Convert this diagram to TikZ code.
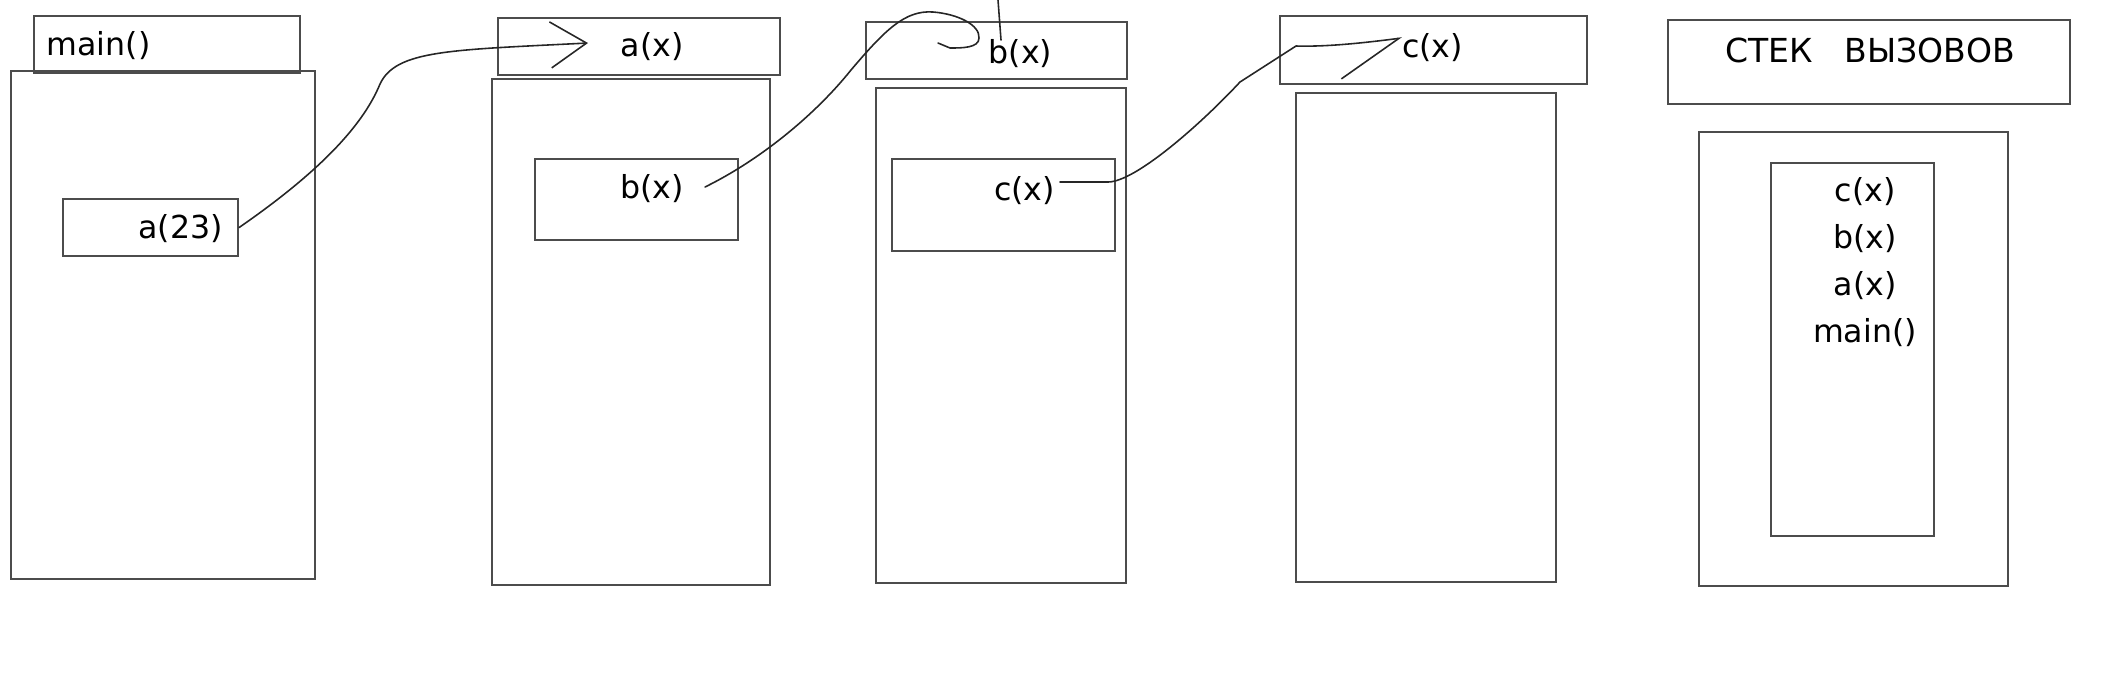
\documentclass[tikz,border=0pt]{standalone}
\usepackage{fontspec}
\setmainfont{DejaVu Sans}
\usetikzlibrary{arrows.meta}
\tikzset{
  blk/.style n args = {2}{rectangle, draw=black!70, line width=0.6pt, inner sep=0pt, minimum width=#1mm, minimum height=#2mm},
  t/.style          = {font=\fontsize{9}{13.3}\selectfont, inner sep=0pt},
  l/.style          = {draw=black!85, line width=0.45pt, line cap=round, line join=round},
  chiamata/.style   = {l, -{Straight Barb[length=3.6mm, width=4.6mm]}},
  ritorno/.style    = {l, -{Straight Barb[right, length=6.2mm, width=6.6mm]}}
}
\begin{document}
\begin{tikzpicture}[x=0.01cm, y=-0.01cm]
  \useasboundingbox (0,0) rectangle (2112,672);

  % main()
  \node[blk={26.6}{5.7}]  (mainhdr)  at (167,44.5)  {};
  \node[t]                (maint)    at (98.5,46)   {main()};
  \node[blk={30.4}{50.8}] (mainbody) at (163,325)   {};
  \node[blk={17.5}{5.7}]  (acall)    at (150.5,227.5) {};
  \node[t]                (acallt)   at (180.5,229) {a(23)};

  % a(x)
  \node[blk={28.2}{5.7}]  (ahdr)     at (639,46.5)  {};
  \node[t]                (ahdrt)    at (652,47)    {a(x)};
  \node[blk={27.8}{50.6}] (abody)    at (631,332)   {};
  \node[blk={20.3}{8.1}]  (bcall)    at (636.5,199.5) {};
  \node[t]                (bcallt)   at (652,189)   {b(x)};

  % b(x)
  \node[blk={26.1}{5.7}]  (bhdr)     at (996.5,50.5) {};
  \node[t]                (bhdrt)    at (1020.5,54) {b(x)};
  \node[blk={25.0}{49.5}] (bbody)    at (1001,335.5) {};
  \node[blk={22.3}{9.2}]  (ccall)    at (1003.5,205) {};
  \node[t]                (ccallt)   at (1024.5,191) {c(x)};

  % c(x)
  \node[blk={30.7}{6.8}]  (chdr)     at (1433.5,50) {};
  \node[t]                (chdrt)    at (1432.5,48) {c(x)};
  \node[blk={26.0}{48.9}] (cbody)    at (1426,337.5) {};

  % stek vyzovov
  \node[blk={40.2}{8.4}]  (stitolo)  at (1869,62)   {};
  \node[t, font=\fontsize{9.4}{12}\selectfont] (stitolot) at (1870,50) {СТЕК\ \ \ ВЫЗОВОВ};
  \node[blk={30.9}{45.4}] (sest)     at (1853.5,359) {};
  \node[blk={16.3}{37.3}] (sint)     at (1852.5,349.5) {};
  \node[t, align=center, anchor=north] (slista) at (1865,177) {c(x)\\b(x)\\a(x)\\main()};

  % ---------------- CHIAMATE ----------------
  \coordinate (ain) at (588,43);
  \draw[chiamata] (acall.east) .. controls (315,175) and (362,128) .. (380,84) .. controls (396,50) and (450,50) .. (ain);

  \coordinate (bout) at (705,187); \coordinate (bin) at (938,43);
  \draw[l] (bout) .. controls (760,160) and (815,115) .. (851,70) .. controls (885,30) and (905,10) .. (933,12)
    .. controls (958,14) and (980,25) .. (979,38) .. controls (979,48) and (962,48) .. (950,48) -- (bin);
  \coordinate (bsopra) at (998,0); \coordinate (bsotto) at (1001,40);
  \draw[l] (bsopra) -- (bsotto);

  \coordinate (cout) at (1060,182); \coordinate (cin) at (1402,38);
  \draw[ritorno] (cout) -- (1108,182) .. controls (1135,182) and (1200,125) .. (1240,82) -- (1296,46)
    .. controls (1330,47) and (1370,42) .. (cin);

\end{tikzpicture}
\end{document}
